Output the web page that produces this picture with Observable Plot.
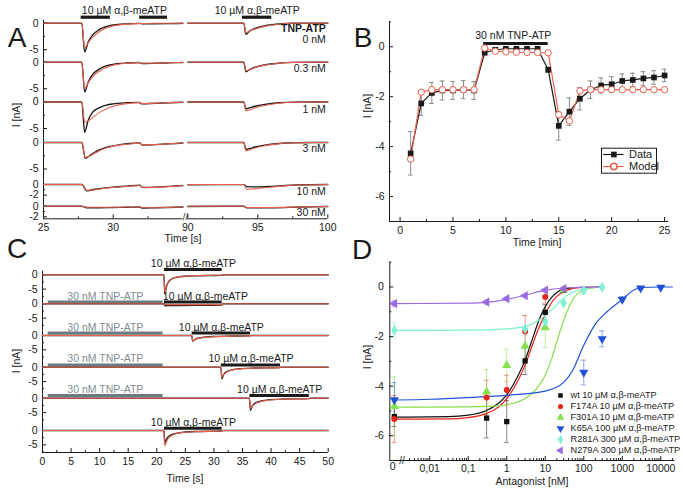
<!DOCTYPE html>
<html><head><meta charset="utf-8">
<script src="https://cdn.jsdelivr.net/npm/d3@7"></script>
<script src="https://cdn.jsdelivr.net/npm/@observablehq/plot@0.6"></script>
<style>
html,body{margin:0;padding:0;background:#fff;}
#fig{position:relative;width:683px;height:493px;overflow:hidden;font-family:Arial,"Liberation Sans",sans-serif;color:#1a1a1a;background:#fff;}
#fig svg{position:absolute;left:0;top:0;}
.t{position:absolute;white-space:nowrap;font-size:10.5px;line-height:1;}
.letter{font-size:28px;}
</style></head><body><div id="fig"></div>
<script>
// ---------------- DATA ----------------
// Panel A : TNP-ATP concentrations and current traces [time s, current nA]
const A_conc = ["0 nM", "0.3 nM", "1 nM", "3 nM", "10 nM", "30 nM"];
const A_black_L = [
  [[25,0],[27.75,0],[27.95,-5.4],[28.2,-3.6],[28.5,-2.3],[29,-1.2],[29.5,-0.65],[30,-0.35],[31,-0.12],[31.9,-0.03],[32.1,-0.12],[34,-0.08],[35,0]],
  [[25,0],[27.75,0],[27.95,-5.6],[28.2,-3.8],[28.5,-2.4],[29,-1.3],[29.5,-0.7],[30,-0.4],[31,-0.15],[31.85,-0.05],[32.05,-0.25],[33,-0.2],[34,-0.12],[35,-0.05]],
  [[25,0],[27.75,0],[27.95,-5.7],[28.2,-3.5],[28.5,-2.0],[29,-1.1],[29.5,-0.6],[30,-0.35],[31,-0.15],[31.85,-0.08],[32.05,-0.35],[33,-0.25],[34,-0.15],[35,-0.05]],
  [[25,0],[27.75,0],[28.0,-3.0],[28.3,-2.5],[28.7,-1.8],[29.2,-1.2],[29.8,-0.75],[30.5,-0.4],[31.5,-0.15],[31.9,-0.1],[32.1,-0.5],[33,-0.4],[34,-0.25],[35,-0.1]],
  [[25,0],[27.75,0],[28.1,-1.2],[28.5,-1.0],[29,-0.8],[30,-0.5],[31,-0.3],[31.9,-0.15],[32.1,-0.55],[33,-0.5],[34,-0.35],[35,-0.2]],
  [[25,0],[27.75,0],[28.1,-0.3],[29,-0.3],[30,-0.25],[31,-0.2],[31.9,-0.15],[32.1,-0.35],[33,-0.3],[35,-0.15]]
];
const A_red_L = [
  [[25,0],[27.75,0],[27.95,-4.7],[28.2,-3.7],[28.5,-2.7],[29,-1.6],[29.5,-0.9],[30,-0.5],[31,-0.18],[32,-0.06],[33,0],[35,0]],
  [[25,0],[27.75,0],[27.95,-5.0],[28.2,-3.9],[28.5,-2.8],[29,-1.7],[29.5,-1.0],[30,-0.55],[31,-0.2],[31.85,-0.08],[32.05,-0.2],[33,-0.18],[34,-0.1],[35,-0.05]],
  [[25,0],[27.75,0],[27.95,-3.8],[28.2,-3.6],[28.5,-3.0],[29,-2.0],[29.5,-1.3],[30,-0.8],[31,-0.3],[31.85,-0.12],[32.05,-0.3],[33,-0.22],[34,-0.12],[35,-0.05]],
  [[25,0],[27.75,0],[28.0,-2.8],[28.3,-2.6],[28.7,-2.0],[29.2,-1.3],[29.8,-0.8],[30.5,-0.45],[31.5,-0.18],[31.9,-0.12],[32.1,-0.45],[33,-0.38],[34,-0.25],[35,-0.1]],
  [[25,0],[27.75,0],[28.1,-1.1],[28.5,-1.05],[29,-0.85],[30,-0.55],[31,-0.35],[31.9,-0.2],[32.1,-0.6],[33,-0.55],[34,-0.4],[35,-0.2]],
  [[25,0],[27.75,0],[28.1,-0.2],[30,-0.2],[31.9,-0.1],[32.1,-0.3],[33,-0.28],[35,-0.15]]
];
const A_black_R = [
  [[90,0],[94.0,0],[94.15,-2.1],[94.4,-1.5],[94.8,-1.0],[95.5,-0.5],[96.5,-0.15],[97.5,0],[100,0]],
  [[90,0],[94.0,0],[94.15,-1.8],[94.4,-1.4],[94.8,-0.95],[95.5,-0.5],[96.5,-0.18],[97.5,-0.03],[100,0]],
  [[90,0],[94.0,0],[94.15,-1.3],[94.4,-1.1],[94.8,-0.8],[95.5,-0.45],[96.5,-0.15],[97.5,-0.03],[100,0]],
  [[90,0],[94.0,0],[94.15,-1.3],[94.4,-1.15],[94.8,-0.85],[95.5,-0.5],[96.5,-0.2],[97.5,-0.05],[100,0]],
  [[90,-0.05],[94.0,-0.02],[94.2,-0.4],[95,-0.45],[96,-0.35],[97,-0.2],[98.5,-0.05],[100,0]],
  [[90,-0.05],[94.0,0],[94.2,-0.3],[96,-0.3],[98,-0.15],[100,-0.05]]
];
const A_red_R = [
  [[90,0],[94.0,0],[94.15,-1.8],[94.4,-1.5],[94.8,-1.1],[95.5,-0.6],[96.5,-0.2],[97.5,-0.02],[100,0]],
  [[90,0],[94.0,0],[94.15,-1.6],[94.4,-1.4],[94.8,-1.0],[95.5,-0.55],[96.5,-0.2],[97.5,-0.04],[100,0]],
  [[90,0],[94.0,0],[94.15,-1.7],[94.4,-1.5],[94.8,-1.1],[95.5,-0.65],[96.5,-0.25],[97.5,-0.06],[100,0]],
  [[90,0],[94.0,0],[94.15,-1.6],[94.4,-1.4],[94.8,-1.05],[95.5,-0.6],[96.5,-0.25],[97.5,-0.06],[100,0]],
  [[90,0],[94.0,0],[94.2,-0.9],[94.6,-0.85],[95.5,-0.6],[96.5,-0.35],[97.5,-0.15],[100,0]],
  [[90,0],[94.0,0],[94.2,-0.25],[96,-0.25],[98,-0.12],[100,-0.05]]
];
const A_bars_L = [[27.7, 29.8], [31.9, 33.9]];   // 10 µM α,β-meATP applications
const A_bars_R = [[93.9, 96.0]];
const A_barLabelX_L = 30.8, A_barLabelX_R = 94.96;
const A_xTicks_L = [25, 30], A_xMinor_L = [27.5, 32.5];
const A_xTicks_R = [90, 95, 100], A_xMinor_R = [92.5, 97.5];

// Panel B : time course [min]
const B_time  = [1,2,3,4,5,6,7,8,9,10,11,12,13,14,15,16,17,18,19,20,21,22,23,24,25];
const B_data  = [-4.27,-2.27,-1.85,-1.75,-1.75,-1.72,-1.75,-0.24,-0.12,-0.08,-0.08,-0.08,-0.08,-0.92,-3.17,-2.6,-2.08,-1.72,-1.55,-1.5,-1.37,-1.33,-1.27,-1.23,-1.15];
const B_err   = [0.87,0.48,0.42,0.38,0.36,0.36,0.36,0.06,0.04,0.04,0.04,0.04,0.04,0.1,0.57,0.55,0.45,0.35,0.3,0.3,0.28,0.27,0.27,0.27,0.25];
const B_model = [-4.5,-1.82,-1.72,-1.72,-1.72,-1.72,-1.72,-0.05,-0.18,-0.2,-0.22,-0.23,-0.23,-0.24,-2.72,-2.97,-1.77,-1.72,-1.72,-1.72,-1.72,-1.72,-1.72,-1.72,-1.72];
const B_tnpBar = [7.9, 14.0];

// Panel C : six protocols, traces [time s, current nA]
const C_black = [
  [[0,0],[21.25,0],[21.4,-6.6],[21.7,-4],[22,-2.6],[22.5,-1.6],[23,-1.1],[24,-0.7],[25,-0.5],[27,-0.35],[29,-0.25],[31.4,-0.2],[31.6,0],[50,0]],
  [[0,0],[21.25,0],[21.45,-0.7],[23,-0.6],[28,-0.5],[31.4,-0.45],[31.6,0],[50,0]],
  [[0,0],[26.1,0],[26.3,-2.0],[26.7,-1.3],[27.3,-0.9],[28.5,-0.55],[30,-0.35],[33,-0.2],[36.3,-0.12],[36.5,0],[50,0]],
  [[0,0],[31.2,0],[31.4,-4.0],[31.7,-2.6],[32.2,-1.6],[33,-1.0],[34.5,-0.55],[37,-0.3],[41.5,-0.15],[41.7,0],[50,0]],
  [[0,0],[36.2,0],[36.4,-4.2],[36.7,-2.8],[37.2,-1.7],[38,-1.1],[39.5,-0.6],[42,-0.3],[46.6,-0.15],[46.8,0],[50,0]],
  [[0,0],[21.25,0],[21.4,-4.5],[21.7,-3.0],[22.2,-1.9],[23,-1.2],[24.5,-0.65],[27,-0.35],[31.4,-0.2],[31.6,0],[50,0]]
];
const C_red = [
  [[0,0],[21.25,0],[21.4,-6.2],[21.7,-4.2],[22,-2.8],[22.5,-1.7],[23,-1.1],[24,-0.65],[25,-0.45],[27,-0.3],[29,-0.2],[31.4,-0.15],[31.6,0],[50,0]],
  [[0,0],[21.25,0],[21.45,-0.3],[31.4,-0.3],[31.6,0],[50,0]],
  [[0,0],[26.1,0],[26.3,-1.8],[26.7,-1.4],[27.3,-1.0],[28.5,-0.6],[30,-0.4],[33,-0.2],[36.3,-0.12],[36.5,0],[50,0]],
  [[0,0],[31.2,0],[31.4,-3.5],[31.7,-2.7],[32.2,-1.8],[33,-1.1],[34.5,-0.6],[37,-0.3],[41.5,-0.15],[41.7,0],[50,0]],
  [[0,0],[36.2,0],[36.4,-3.6],[36.7,-2.9],[37.2,-2.0],[38,-1.3],[39.5,-0.7],[42,-0.35],[46.6,-0.15],[46.8,0],[50,0]],
  [[0,0],[21.25,0],[21.4,-5.3],[21.7,-3.8],[22.2,-2.3],[23,-1.3],[24.5,-0.7],[27,-0.4],[31.4,-0.2],[31.6,0],[50,0]]
];
const C_drugBars = [[21.35,31.45],[21.35,31.45],[26.2,36.4],[31.3,41.65],[36.3,46.7],[21.35,31.45]];
const C_drugLabelX = [26.4, 28.5, 31.3, 36.5, 41.5, 26.4];
const C_hasTNP = [false, true, true, true, true, false];
const C_tnpBar = [1.0, 21.1];
const C_tnpLabelX = 11;

// Panel D : concentration-response (conc nM, current nA, s.e.)
const D_names = ["wt 10 µM α,β-meATP","F174A 10 µM α,β-meATP","F301A 10 µM α,β-meATP","K65A 100 µM α,β-meATP","R281A 300 µM α,β-meATP","N279A 300 µM α,β-meATP"];
const D_wt_conc = [0,0.3,1,3,10,30],      D_wt_I = [-5.23,-5.29,-5.43,-2.98,-1.02,-0.14],   D_wt_err = [0.4,0.8,0.85,0.55,0.3,0.05];
const D_f174_conc = [0,0.3,1,3,10,30],    D_f174_I = [-5.33,-4.46,-4.16,-1.8,-0.4,-0.1],    D_f174_err = [0.95,0.7,0.6,0.65,0.25,0.05];
const D_f301_conc = [0,0.3,1,3,10,30],    D_f301_I = [-4.82,-4.23,-3.16,-2.38,-1.64,-0.12], D_f301_err = [1.2,0.9,0.65,0.6,0.8,0.05];
const D_k65_conc = [0,100,300,1000,3000,10000], D_k65_I = [-4.56,-3.45,-2.09,-0.5,-0.05,-0.02], D_k65_err = [0.7,0.5,0.32,0.1,0.05,0.02];
const D_r281_conc = [0,3,10,30,100,300],  D_r281_I = [-1.75,-1.69,-1.4,-0.65,-0.14,-0.01], D_r281_err = [0.3,0.1,0.3,0.1,0.05,0.02];
const D_n279_conc = [0,0.3,1,3,10,30],    D_n279_I = [-0.67,-0.61,-0.47,-0.35,-0.13,-0.07], D_n279_err = [0.12,0.08,0.05,0.05,0.03,0.02];
// fitted curves [conc nM, current nA]
const D_wt_fit   = [[0,-5.25],[0.03,-5.23],[0.1,-5.17],[0.3,-4.98],[0.6,-4.7],[1,-4.35],[2,-3.55],[3,-2.95],[5,-1.95],[7,-1.3],[10,-0.8],[15,-0.4],[20,-0.22],[30,-0.1],[50,-0.04],[100,-0.01],[300,0]];
const D_f174_fit = [[0,-5.33],[0.03,-5.32],[0.1,-5.27],[0.3,-5.1],[0.6,-4.85],[1,-4.5],[2,-3.75],[3,-3.15],[5,-2.2],[7,-1.6],[10,-1.1],[15,-0.6],[20,-0.38],[30,-0.18],[50,-0.07],[100,-0.02],[300,0]];
const D_f301_fit = [[0,-4.85],[0.1,-4.84],[0.3,-4.82],[1,-4.75],[3,-4.5],[6,-4.1],[10,-3.55],[15,-2.85],[20,-2.2],[30,-1.35],[50,-0.55],[100,-0.12],[300,0]];
const D_k65_fit  = [[0,-4.56],[0.01,-4.53],[0.1,-4.46],[1,-4.37],[10,-4.2],[30,-3.85],[50,-3.4],[100,-2.35],[200,-1.5],[400,-1.0],[1000,-0.5],[2000,-0.12],[3000,-0.02],[10000,0],[20000,0]];
const D_r281_fit = [[0,-1.75],[0.1,-1.74],[0.3,-1.73],[1,-1.69],[3,-1.6],[10,-1.15],[20,-0.72],[30,-0.45],[50,-0.22],[100,-0.08],[300,0]];
const D_n279_fit = [[0,-0.67],[0.1,-0.65],[0.3,-0.62],[1,-0.5],[3,-0.33],[10,-0.13],[30,-0.04],[100,-0.01],[300,0]];
const D_xTicks = [0.01, 0.1, 1, 10, 100, 1000, 10000];
const D_xTickLabels = ["0,01", "0,1", "1", "10", "100", "1000", "10000"];

// ---------------- STYLE / LAYOUT ----------------
const INK = "#1a1a1a", RED = "#e8604c", TNP_BAR = "#6b7b80", TNP_TXT = "#7f8d91", ERR = "#8a8a8a";
const D_colors = ["#111111", "#e8251c", "#86e04c", "#1f52d8", "#7ff0d4", "#9a6ae0"];
const W = 683, H = 493;
const FONT = 'Arial, "Liberation Sans", sans-serif';
const fig = document.getElementById("fig");
const fmt = d => String(d);

function place(box, x, y, marks) {
  const svg = Plot.plot({
    width: W, height: H,
    marginLeft: box.left, marginRight: W - box.right, marginTop: box.top, marginBottom: H - box.bottom,
    x: {axis: null, ...x}, y: {axis: null, ...y},
    marks
  });
  svg.style.background = "none";
  svg.style.fontFamily = FONT;
  svg.style.fontSize = "10.5px";
  svg.style.color = INK;
  svg.style.overflow = "visible";
  fig.appendChild(svg);
  return svg;
}
const yTicksIn = (vals, fw, len) => Plot.tickY(vals, {y: d => d, insetRight: fw - len, stroke: INK});
const xTicksIn = (vals, fh, len) => Plot.tickX(vals, {x: d => d, insetTop: fh - len, stroke: INK});
const yLabels = (vals, pad = 5, f = fmt) => Plot.axisY({ticks: vals, tickSize: 0, tickPadding: pad, label: null, tickFormat: f});
const xLabels = (vals, pad = 4, f = fmt) => Plot.axisX({ticks: vals, tickSize: 0, tickPadding: pad, label: null, tickFormat: f});
const pts = (pairs) => pairs.map(([t, v]) => ({t, v}));

function text(str, x, y, cls = "t", rotate = false) {
  const d = document.createElement("div");
  d.className = cls === "t" ? "t" : "t " + cls;
  d.textContent = str;
  d.style.left = x + "px"; d.style.top = y + "px";
  d.style.transform = "translate(-50%,-50%)" + (rotate ? " rotate(-90deg)" : "");
  fig.appendChild(d);
}

// ---------------- PANEL A (broken time axis: two segments) ----------------
const A_k = 5.3;                       // px per nA
const A_rowTop = [20, 58.5, 98, 138.5, 180.5, 202];
const A_rowBottom = [58.5, 98, 138.5, 180.5, 202, 218.3];
const A_zeroY = [22.7, 61.7, 101.5, 142, 184, 205.7];
const A_labelLevel = [-3.05, -1.25, -1.4, -1.1, -1.26, -1.25];
const A_boxL = {left: 43, right: 182.4}, A_boxR = {left: 187.3, right: 327.3};
A_conc.forEach((conc, i) => {
  const top = A_rowTop[i], bottom = A_rowBottom[i], z0 = A_zeroY[i];
  const lo = -(bottom - z0) / A_k, hi = (z0 - top) / A_k;
  const fwL = A_boxL.right - A_boxL.left, fh = bottom - top;
  const big = i < 4;
  const majors = big ? [0, -5] : [0, -2];
  const minors = big ? [-2.5] : [-1];
  // left segment 25–35 s
  const L = [
    Plot.ruleX([25], {stroke: INK}),
    yTicksIn(majors, fwL, 4), yTicksIn(minors, fwL, 2),
    yLabels(majors),
    Plot.line(pts(A_black_L[i]), {x: "t", y: "v", stroke: INK, strokeWidth: 1.4, curve: "monotone-x"}),
    Plot.line(pts(A_red_L[i]), {x: "t", y: "v", stroke: RED, strokeWidth: 1.1, curve: "monotone-x"})
  ];
  // right segment 90–100 s
  const R = [
    Plot.line(pts(A_black_R[i]), {x: "t", y: "v", stroke: INK, strokeWidth: 1.4, curve: "monotone-x"}),
    Plot.line(pts(A_red_R[i]), {x: "t", y: "v", stroke: RED, strokeWidth: 1.1, curve: "monotone-x"}),
    Plot.text([conc], {x: 100, y: A_labelLevel[i], textAnchor: "end", dx: -2, fill: INK})
  ];
  if (i === 0) {
    L.push(
      Plot.ruleY(A_bars_L, {x1: d => d[0], x2: d => d[1], y: 1.13, stroke: INK, strokeWidth: 3.2}),
      Plot.text(["10 µM α,β-meATP"], {x: A_barLabelX_L, y: 2.4, fill: INK})
    );
    R.push(
      Plot.ruleY(A_bars_R, {x1: d => d[0], x2: d => d[1], y: 1.13, stroke: INK, strokeWidth: 3.2}),
      Plot.text(["10 µM α,β-meATP"], {x: A_barLabelX_R, y: 2.4, fill: INK}),
      Plot.text(["TNP-ATP"], {x: 100, y: -1.05, textAnchor: "end", dx: -2, fontWeight: "bold", fill: INK})
    );
  }
  if (i === 5) {
    L.push(
      Plot.ruleY([lo], {stroke: INK}),
      xTicksIn(A_xTicks_L, fh, 4), xTicksIn(A_xMinor_L, fh, 2),
      xLabels(A_xTicks_L, 5),
      Plot.text(["//"], {x: 35, y: lo, dx: 2.5, dy: -1.5, fill: INK, fontSize: 9.5})
    );
    R.push(
      Plot.ruleY([lo], {stroke: INK}),
      xTicksIn(A_xTicks_R, fh, 4), xTicksIn(A_xMinor_R, fh, 2),
      xLabels(A_xTicks_R, 5)
    );
  }
  place({left: A_boxL.left, right: A_boxL.right, top, bottom}, {domain: [25, 35]}, {domain: [lo, hi]}, L);
  place({left: A_boxR.left, right: A_boxR.right, top, bottom}, {domain: [90, 100]}, {domain: [lo, hi]}, R);
});
text("A", 17, 38, "letter");
text("I [nA]", 16, 115, "t", true);
text("Time [s]", 183, 238);

// ---------------- PANEL B ----------------
const B_box = {left: 389, right: 668.3, top: 21.3, bottom: 221};
const B_rows = B_time.map((t, i) => ({t, v: B_data[i], e: B_err[i], m: B_model[i]}));
{
  const fw = B_box.right - B_box.left, fh = B_box.bottom - B_box.top;
  place(B_box, {domain: [-1, 25.4]}, {domain: [-7, 1]}, [
    Plot.ruleX([-1], {stroke: INK}),
    Plot.ruleY([-7], {stroke: INK}),
    yTicksIn([0, -2, -4, -6], fw, 4), yTicksIn([1, -1, -3, -5], fw, 2),
    xTicksIn([0, 5, 10, 15, 20, 25], fh, 4), xTicksIn([2.5, 7.5, 12.5, 17.5, 22.5], fh, 2),
    yLabels([0, -2, -4, -6], 5),
    xLabels([0, 5, 10, 15, 20, 25], 5),
    Plot.ruleY([B_tnpBar], {x1: d => d[0], x2: d => d[1], y: 0.13, stroke: INK, strokeWidth: 3}),
    Plot.text(["30 nM TNP-ATP"], {x: 10.7, y: 0.45, fill: INK}),
    Plot.ruleX(B_rows, {x: "t", y1: d => d.v - d.e, y2: d => d.v + d.e, stroke: ERR}),
    Plot.ruleY(B_rows, {x1: d => d.t - 0.22, x2: d => d.t + 0.22, y: d => d.v + d.e, stroke: ERR}),
    Plot.ruleY(B_rows, {x1: d => d.t - 0.22, x2: d => d.t + 0.22, y: d => d.v - d.e, stroke: ERR}),
    Plot.line(B_rows, {x: "t", y: "v", stroke: INK, strokeWidth: 1.2}),
    Plot.line(B_rows, {x: "t", y: "m", stroke: RED, strokeWidth: 1.2}),
    Plot.dot(B_rows, {x: "t", y: "v", symbol: "square", fill: INK, r: 3.2}),
    Plot.dot(B_rows, {x: "t", y: "m", symbol: "circle", fill: "white", stroke: RED, strokeWidth: 1, r: 3.2})
  ]);
  // legend
  const names = ["Data", "Model"];
  place({left: 601, right: 656, top: 147.7, bottom: 172.7}, {domain: [0, 1]}, {type: "point", domain: names}, [
    Plot.frame({stroke: INK}),
    Plot.ruleY(["Data"], {y: d => d, x1: 0.04, x2: 0.41, stroke: INK, strokeWidth: 1.2}),
    Plot.ruleY(["Model"], {y: d => d, x1: 0.04, x2: 0.41, stroke: RED, strokeWidth: 1.2}),
    Plot.dot(["Data"], {y: d => d, x: 0.225, symbol: "square", fill: INK, r: 3.2}),
    Plot.dot(["Model"], {y: d => d, x: 0.225, symbol: "circle", fill: "white", stroke: RED, r: 3.2}),
    Plot.text(names, {y: d => d, x: 0.5, textAnchor: "start", fill: INK, fontSize: 11})
  ]);
}
text("B", 363, 38, "letter");
text("I [nA]", 367, 106, "t", true);
text("Time [min]", 537, 242);

// ---------------- PANEL C ----------------
const C_k = 2.87;
const C_rowTop = [270.7, 299, 330.5, 362, 393.5, 425];
const C_rowBottom = [299, 330.5, 362, 393.5, 425, 452];
const C_zeroY = [274.3, 303.3, 335, 366.7, 397.7, 430];
const C_barLevel = [1.85, 0.6, 0.9, 0.8, 0.9, 0.8];
const C_labelLevel = [3.8, 2.65, 2.9, 2.9, 3.1, 2.8];
const C_box = {left: 42, right: 327.7};
C_black.forEach((trace, i) => {
  const top = C_rowTop[i], bottom = C_rowBottom[i], z0 = C_zeroY[i];
  const lo = -(bottom - z0) / C_k, hi = (z0 - top) / C_k;
  const fw = C_box.right - C_box.left, fh = bottom - top;
  const minors = [-2.5, -7.5].filter(v => v > lo);
  const marks = [Plot.ruleX([0], {stroke: INK}), yTicksIn([0, -5], fw, 4), yTicksIn(minors, fw, 2), yLabels([0, -5])];
  if (C_hasTNP[i]) marks.push(
    Plot.ruleY([C_tnpBar], {x1: d => d[0], x2: d => d[1], y: C_barLevel[i], stroke: TNP_BAR, strokeWidth: 3}),
    Plot.text(["30 nM TNP-ATP"], {x: C_tnpLabelX, y: C_labelLevel[i], fill: TNP_TXT})
  );
  marks.push(
    Plot.line(pts(trace), {x: "t", y: "v", stroke: INK, strokeWidth: 1.4, curve: "monotone-x"}),
    Plot.line(pts(C_red[i]), {x: "t", y: "v", stroke: RED, strokeWidth: 1.1, curve: "monotone-x"}),
    Plot.ruleY([C_drugBars[i]], {x1: d => d[0], x2: d => d[1], y: C_barLevel[i], stroke: INK, strokeWidth: 3}),
    Plot.text(["10 µM α,β-meATP"], {x: C_drugLabelX[i], y: C_labelLevel[i], fill: INK})
  );
  if (i === 5) marks.push(
    Plot.ruleY([lo], {stroke: INK}),
    xTicksIn([0,5,10,15,20,25,30,35,40,45,50], fh, 4),
    xTicksIn([2.5,7.5,12.5,17.5,22.5,27.5,32.5,37.5,42.5,47.5], fh, 2),
    xLabels([0,5,10,15,20,25,30,35,40,45,50], 5)
  );
  place({left: C_box.left, right: C_box.right, top, bottom}, {domain: [0, 50]}, {domain: [lo, hi]}, marks);
});
text("C", 17, 249, "letter");
text("I [nA]", 15.5, 361, "t", true);
text("Time [s]", 185, 478);

// ---------------- PANEL D ----------------
const D_box = {left: 389.3, right: 674.3, top: 261.7, bottom: 460};
const D_ZERO = 0.00121;                 // where the "0 nM" points sit, left of the axis break
const xv = c => (c === 0 ? D_ZERO : c);
function tri(rot) {
  return {draw(ctx, size) {
    const R = Math.sqrt(size / 1.299) * 0.95;
    const base = [[0, -R], [R * 0.866, R / 2], [-R * 0.866, R / 2]];
    const p = base.map(([x, y]) => [x * Math.cos(rot) - y * Math.sin(rot), x * Math.sin(rot) + y * Math.cos(rot)]);
    ctx.moveTo(p[0][0], p[0][1]); ctx.lineTo(p[1][0], p[1][1]); ctx.lineTo(p[2][0], p[2][1]); ctx.closePath();
  }};
}
const D_symbols = ["square", "circle", tri(0), tri(Math.PI), "diamond", tri(-Math.PI / 2)];
const D_r = [3.0, 3.0, 3.6, 3.6, 3.3, 3.6];
const D_sets = [
  [D_wt_conc, D_wt_I, D_wt_err, D_wt_fit],
  [D_f174_conc, D_f174_I, D_f174_err, D_f174_fit],
  [D_f301_conc, D_f301_I, D_f301_err, D_f301_fit],
  [D_k65_conc, D_k65_I, D_k65_err, D_k65_fit],
  [D_r281_conc, D_r281_I, D_r281_err, D_r281_fit],
  [D_n279_conc, D_n279_I, D_n279_err, D_n279_fit]
];
{
  const fw = D_box.right - D_box.left, fh = D_box.bottom - D_box.top;
  const minor = d3.scaleLog().domain([0.003, 20000]).ticks()
    .filter(v => Math.abs(Math.log10(v) - Math.round(Math.log10(v))) > 1e-6);
  const labelOf = new Map(D_xTicks.map((v, i) => [v, D_xTickLabels[i]]));
  const marks = [
    Plot.ruleX([0.00092], {stroke: INK}),
    Plot.ruleY([-7], {stroke: INK}),
    yTicksIn([0, -2, -4, -6], fw, 4), yTicksIn([1, -1, -3, -5], fw, 2),
    xTicksIn(D_xTicks, fh, 4), xTicksIn(minor, fh, 2),
    yLabels([0, -2, -4, -6], 6),
    xLabels(D_xTicks, 4, d => labelOf.get(d)),
    Plot.text(["0"], {frameAnchor: "bottom-left", dy: 9, fill: INK}),
    Plot.text(["//"], {x: 0.0019, y: -7, fill: INK, fontSize: 10})
  ];
  D_sets.forEach(([conc, I, err], s) => {
    const rows = conc.map((c, i) => ({x: xv(c), v: I[i], e: err[i]}));
    marks.push(
      Plot.ruleX(rows, {x: "x", y1: d => d.v - d.e, y2: d => d.v + d.e, stroke: D_colors[s], strokeOpacity: 0.5}),
      Plot.ruleY(rows, {x1: d => d.x * 0.86, x2: d => d.x / 0.86, y: d => d.v + d.e, stroke: D_colors[s], strokeOpacity: 0.5}),
      Plot.ruleY(rows, {x1: d => d.x * 0.86, x2: d => d.x / 0.86, y: d => d.v - d.e, stroke: D_colors[s], strokeOpacity: 0.5})
    );
  });
  D_sets.forEach(([, , , fit], s) => {
    marks.push(Plot.line(fit, {x: d => xv(d[0]), y: d => d[1], stroke: D_colors[s], strokeWidth: 1.2, curve: "monotone-x"}));
  });
  D_sets.forEach(([conc, I], s) => {
    const rows = conc.map((c, i) => ({x: xv(c), v: I[i]}));
    marks.push(Plot.dot(rows, {x: "x", y: "v", symbol: D_symbols[s], fill: D_colors[s], r: D_r[s]}));
  });
  place(D_box, {type: "log", domain: [0.00092, 23100]}, {domain: [-7, 1]}, marks);
  // legend
  const legendMarks = [Plot.text(D_names, {x: 1, y: d => d, textAnchor: "start", fill: INK, fontSize: 9.2})];
  D_names.forEach((n, s) => legendMarks.push(Plot.dot([n], {x: 0, y: d => d, symbol: D_symbols[s], fill: D_colors[s], r: D_r[s] * 0.85})));
  place({left: 560, right: 570, top: 395, bottom: 450.7}, {domain: [0, 1]}, {type: "point", domain: D_names, padding: 0}, legendMarks);
}
text("D", 362, 250, "letter");
text("I [nA]", 367, 357, "t", true);
text("Antagonist [nM]", 532, 481);
</script></body></html>
